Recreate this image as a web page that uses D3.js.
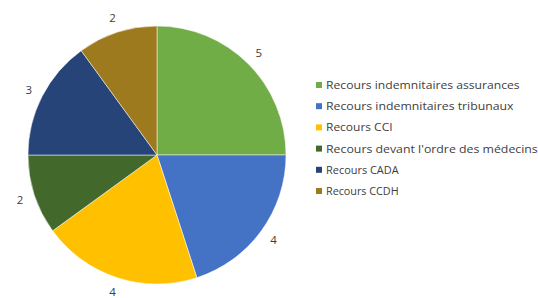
<!DOCTYPE html>
<html>
<head>
<meta charset="utf-8">
<script src="https://cdn.jsdelivr.net/npm/d3@7"></script>
<style>
  body { margin: 0; background: #fff; }
  text { font-family: "Open Sans", sans-serif; fill: #404040; }
</style>
</head>
<body>
<div id="chart"></div>
<script>
// categories and values, clockwise from 12 o'clock
const categories = [
  "Recours indemnitaires assurances",
  "Recours indemnitaires tribunaux",
  "Recours CCI",
  "Recours devant l'ordre des médecins",
  "Recours CADA",
  "Recours CCDH"
];
const values = [5, 4, 4, 2, 3, 2];
const colors = ["#70ad47", "#4472c4", "#ffc000", "#43682b", "#264478", "#9e7a1f"];

const width = 538, height = 298;
const cx = 157, cy = 155, radius = 129;

const svg = d3.select("#chart")
  .append("svg")
  .attr("width", width)
  .attr("height", height);

const data = categories.map((c, i) => ({ name: c, value: values[i], color: colors[i] }));

const pie = d3.pie()
  .value(d => d.value)
  .sort(null);

const arc = d3.arc()
  .innerRadius(0)
  .outerRadius(radius);

const labelArc = d3.arc()
  .innerRadius(radius + 15)
  .outerRadius(radius + 15);

const g = svg.append("g")
  .attr("transform", `translate(${cx},${cy})`);

const arcs = pie(data);

g.selectAll("path")
  .data(arcs)
  .enter()
  .append("path")
  .attr("d", arc)
  .attr("fill", d => d.data.color)
  .attr("stroke", "#fff")
  .attr("stroke-width", 0.5);

g.selectAll("text.val")
  .data(arcs)
  .enter()
  .append("text")
  .attr("class", "val")
  .attr("transform", d => `translate(${labelArc.centroid(d)})`)
  .attr("text-anchor", "middle")
  .attr("dy", "0.35em")
  .attr("font-size", 11.5)
  .text(d => d.data.value);

// legend
const legend = svg.append("g")
  .attr("transform", "translate(316,85)");

const rows = legend.selectAll("g")
  .data(data)
  .enter()
  .append("g")
  .attr("transform", (d, i) => `translate(0,${i * 21.2})`);

rows.append("rect")
  .attr("x", 0)
  .attr("y", -3)
  .attr("width", 6)
  .attr("height", 6)
  .attr("fill", d => d.color);

rows.append("text")
  .attr("x", 10)
  .attr("dy", "0.35em")
  .attr("font-size", 11.5)
  .attr("textLength", d => d.name.length * 6.05)
  .attr("lengthAdjust", "spacingAndGlyphs")
  .text(d => d.name);
</script>
</body>
</html>
